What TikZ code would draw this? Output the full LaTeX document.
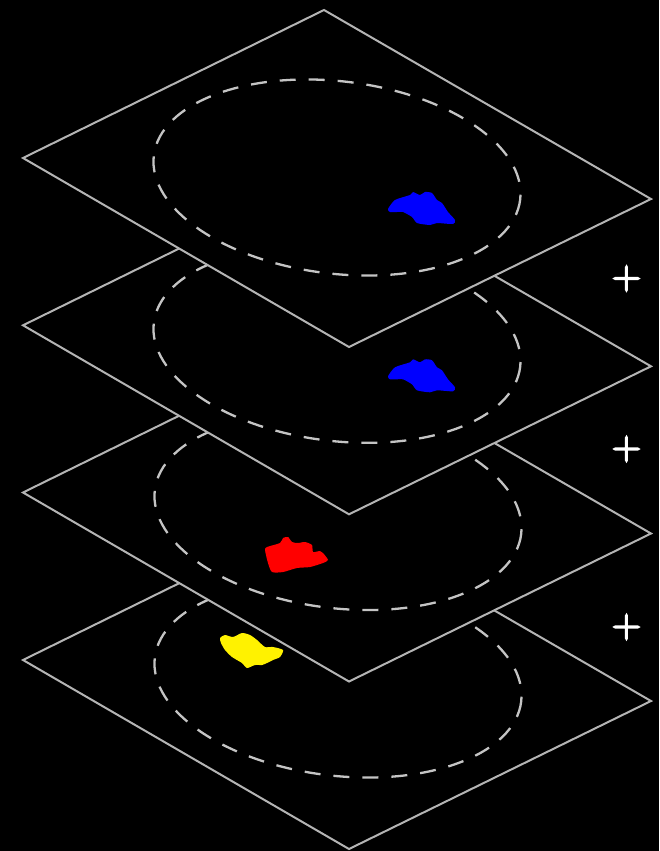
\documentclass[tikz,border=0pt]{standalone}
\usepackage{fontspec}
\newfontfamily\plusfont[FakeBold=4]{Latin Modern Roman}
\definecolor{planegray}{HTML}{B4B4B4}
\definecolor{orbitgray}{HTML}{C4C4C4}
\newcommand\drawplane[2]{%
  \begin{scope}[shift={(0,#1)}]
    \filldraw[plane] (324,10) -- (651,199) -- (349,347) -- (23,158) -- cycle;
    \begin{scope}[shift={(#2,177.5)},rotate=-6.86]
      \draw[orbit] (0,0) ellipse [x radius=184.5, y radius=96.2];
    \end{scope}
  \end{scope}}
\begin{document}
\begin{tikzpicture}[x=1pt,y=-1pt,
  plane/.style={fill=black,draw=planegray,line width=2pt,line join=miter},
  orbit/.style={draw=orbitgray,line width=2.3pt,dash pattern=on 16pt off 13pt},
  blob/.style={line join=round},
  plussign/.style={text=white,font=\plusfont\fontsize{40}{40}\selectfont,inner sep=0pt}]
\useasboundingbox (0,0) rectangle (659,851);
\fill[black] (0,0) rectangle (659,851);

% layer 4 (bottom)
\drawplane{502}{338}
\fill[yellow,blob] plot[smooth cycle,tension=0.4] coordinates {
  (220,638) (225,635) (233,637) (242,633) (250,635) (257,640) (265,647)
  (273,647) (283,650) (280,657) (273,660) (267,663) (262,665) (255,665)
  (247,668) (242,663) (232,657) (225,650) (221,643)};

% layer 3
\drawplane{334.5}{338}
\fill[red,blob] plot[smooth cycle,tension=0.4] coordinates {
  (265,550) (267,547) (280,543) (283,538) (288,537) (292,542) (298,543)
  (305,542) (312,545) (313,552) (320,551) (323,553) (328,560) (323,563)
  (310,567) (297,568) (283,572) (272,572) (268,563)};

% layer 2
\drawplane{167.3}{337}
\begin{scope}[shift={(0,167.3)}]
\fill[blue,blob] plot[smooth cycle,tension=0.4] coordinates {
  (388,209) (395,200) (410,195) (413,192) (420,195) (425,192) (432,193)
  (437,200) (442,203) (448,212) (455,220) (453,224) (437,223) (430,225)
  (417,223) (412,217) (403,212) (397,212) (390,212)};
\end{scope}

% layer 1 (top)
\drawplane{0}{337}
\fill[blue,blob] plot[smooth cycle,tension=0.4] coordinates {
  (388,209) (395,200) (410,195) (413,192) (420,195) (425,192) (432,193)
  (437,200) (442,203) (448,212) (455,220) (453,224) (437,223) (430,225)
  (417,223) (412,217) (403,212) (397,212) (390,212)};

% plus signs
\node[plussign] (p1) at (626.5,278.5) {+};
\node[plussign] (p2) at (626.5,449) {+};
\node[plussign] (p3) at (626.5,627) {+};
\end{tikzpicture}
\end{document}
